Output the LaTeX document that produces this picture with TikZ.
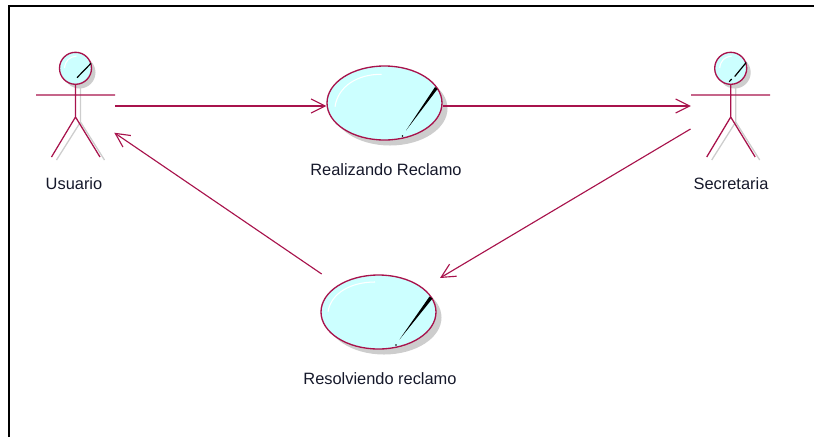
\documentclass[tikz,border=0pt]{standalone}
\usepackage{fontspec}
\setmainfont{Liberation Sans}
\usetikzlibrary{shapes.geometric,arrows.meta}
\definecolor{umlline}{HTML}{A8134C}
\definecolor{umlfill}{HTML}{CCFFFF}
\definecolor{umlshadow}{HTML}{CDCDCD}
\definecolor{umltext}{HTML}{15182A}
\tikzset{
  frameline/.style={black,line width=1.6pt},
  usecase/.style={ellipse,draw=umlline,fill=umlfill,line width=1pt,minimum width=86.25pt,minimum height=55.5pt,inner sep=0pt},
  ucshadow/.style={ellipse,fill=umlshadow,minimum width=86.25pt,minimum height=55.5pt,inner sep=0pt},
  actorbox/.style={minimum width=59.25pt,minimum height=81pt,inner sep=0pt},
  actorline/.style={umlline,line width=.95pt},
  actorshade/.style={umlshadow,line width=.95pt},
  actorhead/.style={draw=umlline,fill=umlfill,line width=1pt},
  shine/.style={white,line width=.8pt},
  tick/.style={black,line width=.9pt},
  lbl/.style={text=umltext,font=\fontsize{12.3pt}{14pt}\selectfont,inner sep=0pt},
  conn/.style={umlline,line width=.85pt,-{Straight Barb[length=10.5pt,width=10.5pt,line width=.85pt]}}
}
\newcommand{\umlactor}[3]{% name, center x, head tick
  \node[actorbox] (#1) at (#2,106) {};
  \begin{scope}[shift={(#2,0)}]
    \fill[umlshadow] (4,72.5) circle[radius=12pt];
    \draw[actorshade] (5,84) -- (5,122) (5,122) -- (-19,160) (5,122) -- (29,160);
    \draw[actorhead] (0,68.3) circle[radius=12pt];
    \draw[shine] (-11,68) .. controls (-10,60) and (-6,57) .. (1,56);
    \draw[actorline] (-39.5,95) -- (39.5,95) (0,84.5) -- (0,117) (0,117) -- (-24,157) (0,117) -- (24.5,157);
    #3
  \end{scope}
}
\begin{document}
\begin{tikzpicture}[x=.75pt,y=-.75pt]
  \useasboundingbox (0,0) rectangle (814,437);
  \draw[frameline] (9,437) -- (9,5.7) -- (814,5.7);

  % Actors
  \umlactor{usuario}{75.5}{\draw[tick] (1.5,77.7) -- (15.5,63.3);}
  \umlactor{secretaria}{730.7}{\draw[tick] (-1.5,81.7) -- (1,79);\draw[tick] (4,76.5) -- (15.5,62.5);}
  \node[lbl] (usuarioLabel) at (74,183.5) {Usuario};
  \node[lbl] (secretariaLabel) at (731,183.5) {Secretaria};

  % Use case: Realizando Reclamo
  \node[ucshadow] (uc1shadow) at (390,108.5) {};
  \node[usecase] (uc1) at (384.5,103) {};
  \draw[shine] (335,106.7) .. controls (338,86) and (358,74) .. (381.7,74.3);
  \fill[black] (406,130.5) -- (435,87) -- (437.5,89) -- cycle;
  \fill[black] (402.5,136) circle[radius=.7pt];
  \node[lbl] (uc1Label) at (386,170) {Realizando Reclamo};

  % Use case: Resolviendo reclamo
  \node[ucshadow] (uc2shadow) at (384,317.5) {};
  \node[usecase] (uc2) at (378.5,312) {};
  \draw[shine] (328,311.7) .. controls (331,293) and (351,282) .. (375,282);
  \fill[black] (399.5,339.5) -- (429.5,296.5) -- (432.5,298.5) -- cycle;
  \fill[black] (396,345) circle[radius=.7pt];
  \node[lbl] (uc2Label) at (380,379) {Resolviendo reclamo};

  % Connector ports
  \coordinate (secretariaOut) at (690.5,129);
  \coordinate (uc2In) at (440,278);
  \coordinate (uc2Out) at (321.7,274);
  \coordinate (usuarioIn) at (114.3,132.7);

  % Connectors
  \draw[conn] (usuario.east) -- (uc1.west |- usuario.east);
  \draw[conn] (uc1.east |- secretaria.west) -- (secretaria.west);
  \draw[conn] (secretariaOut) -- (uc2In);
  \draw[conn] (uc2Out) -- (usuarioIn);
\end{tikzpicture}
\end{document}
